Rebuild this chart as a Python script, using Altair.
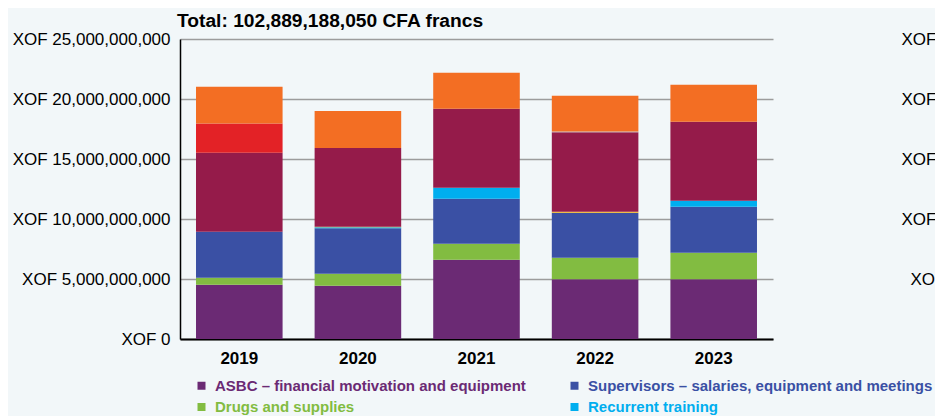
import altair as alt
import pandas as pd

years = ["2019", "2020", "2021", "2022", "2023"]
series = [
    "ASBC – financial motivation and equipment",
    "Drugs and supplies",
    "Supervisors – salaries, equipment and meetings",
    "Recurrent training",
    "Initial training",
    "Management and coordination",
    "Community mobilization",
    "Monitoring and evaluation",
    "Other costs",
]
colors = ["#6B2A74", "#82BC41", "#3A50A4", "#00AEEF", "#FDB913",
          "#951B4A", "#E32226", "#B3B3B3", "#F36E23"]

# values in billions of CFA francs (XOF)
asbc = [4.53, 4.44, 6.61, 4.97, 4.97]
drugs = [0.58, 1.00, 1.33, 1.81, 2.22]
supervisors = [3.83, 3.78, 3.75, 3.75, 3.83]
recurrent = [0.0, 0.09, 0.92, 0.0, 0.50]
initial = [0.0, 0.05, 0.0, 0.08, 0.0]
management = [6.58, 6.56, 6.58, 6.61, 6.58]
mobilization = [2.44, 0.0, 0.0, 0.0, 0.0]
monitoring = [0.0, 0.0, 0.0, 0.08, 0.0]
other = [3.06, 3.08, 3.00, 2.97, 3.08]

title_text = "Total: 102,889,188,050 CFA francs"
tick_values = [0, 5e9, 10e9, 15e9, 20e9, 25e9]
# legend entries visible in the picture (filled column by column)
legend_shown = [series[0], series[1], series[2], series[3]]

all_vals = [asbc, drugs, supervisors, recurrent, initial, management,
            mobilization, monitoring, other]
rows = []
for i, (name, vals) in enumerate(zip(series, all_vals)):
    for y, v in zip(years, vals):
        rows.append({"year": y, "series": name, "idx": i, "value": v * 1e9})
df = pd.DataFrame(rows)

SANS = "Liberation Sans, Arial"
label_expr = "'XOF ' + format(datum.value, ',')"

yscale = alt.Scale(domain=[0, 25e9], nice=False, zero=True)

bars = alt.Chart(df).mark_bar().encode(
    x=alt.X("year:N", sort=years,
            scale=alt.Scale(paddingInner=0.27, paddingOuter=0.135),
            axis=alt.Axis(title=None, labelAngle=0, labelFont=SANS,
                          labelFontWeight="bold", labelFontSize=17,
                          labelColor="black", labelPadding=11, ticks=False,
                          domainColor="black", domainWidth=2)),
    y=alt.Y("value:Q", stack="zero", scale=yscale,
            axis=alt.Axis(title=None, values=tick_values, labelExpr=label_expr,
                          grid=True, gridColor="#9c9c9c", gridWidth=1.5,
                          domainColor="black", domainWidth=1.5, ticks=False,
                          labelPadding=10, labelFont=SANS, labelFontSize=17,
                          labelColor="black")),
    color=alt.Color("series:N",
                    scale=alt.Scale(domain=series, range=colors),
                    legend=alt.Legend(
                        title=None, orient="none", legendX=14, legendY=339,
                        columns=2, values=legend_shown, symbolType="square",
                        symbolSize=64, symbolStrokeWidth=0, labelFont=SANS,
                        labelFontSize=15, labelFontWeight="bold",
                        columnPadding=41, rowPadding=5.5, labelOffset=6,
                        padding=0, labelLimit=0,
                        labelColor=alt.ExprRef("scale('color', datum.value)"))),
    order=alt.Order("idx:Q"),
)

right_axis = alt.Chart(df).mark_point(opacity=0).encode(
    y=alt.Y("value:Q", scale=yscale,
            axis=alt.Axis(title=None, orient="right", values=tick_values,
                          labelExpr="datum.value == 0 ? '' : 'XOF'",
                          grid=False, domain=False, ticks=False, offset=118,
                          labelPadding={"condition": {"test": "datum.value == 5000000000",
                                                      "value": 19},
                                        "value": 10},
                          labelAlign="left", labelFont=SANS, labelFontSize=17,
                          labelColor="black")),
)

chart = alt.layer(bars, right_axis).resolve_axis(y="independent").properties(
    width=593, height=300,
    autosize=alt.AutoSizeParams(type="none"),
    padding={"left": 172, "top": 31, "right": 162, "bottom": 77},
    background="#F2F7F9",
    title=alt.TitleParams(title_text, anchor="start", frame="group",
                          font=SANS, fontSize=19.2, fontWeight="bold",
                          color="black", dx=-3, dy=5, offset=4),
).configure_view(stroke=None)

chart.save("out.html", embed_options={"renderer": "svg", "actions": False})
